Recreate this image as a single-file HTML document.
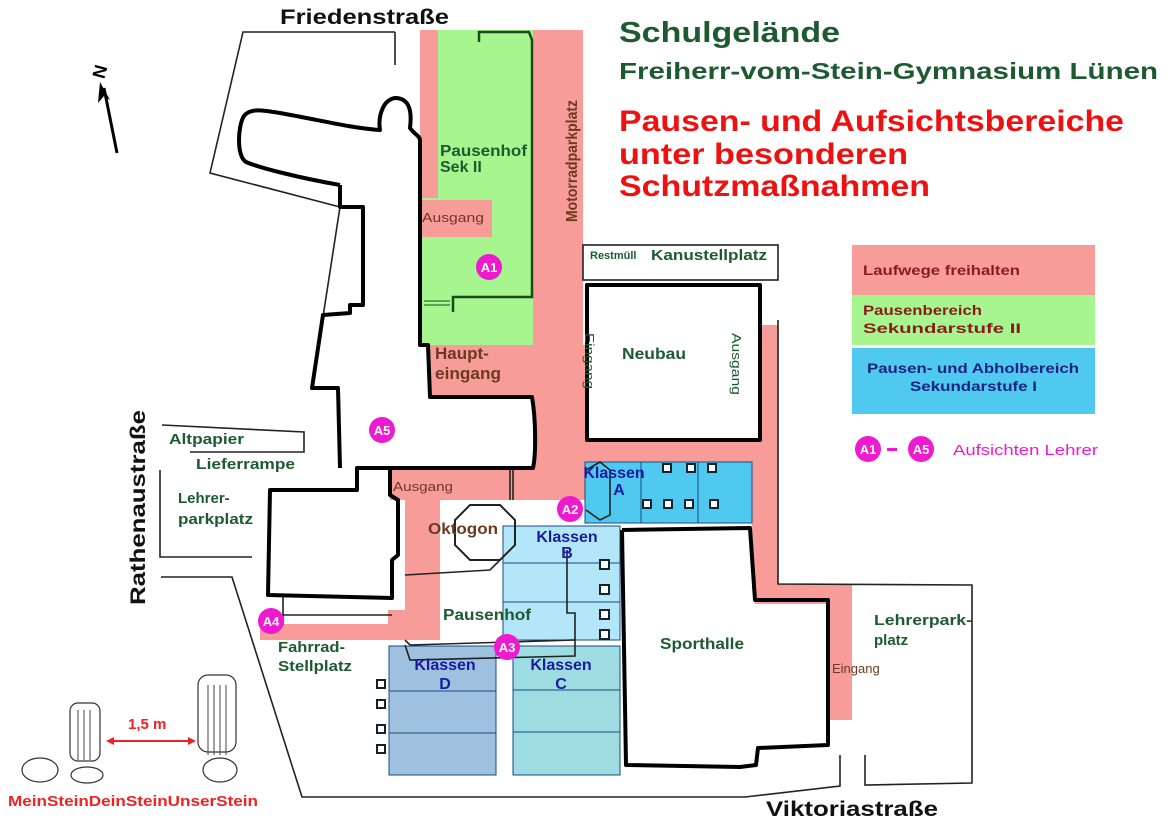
<!DOCTYPE html>
<html><head><meta charset="utf-8"><style>
body{margin:0;background:#fff;}
svg{display:block;font-family:"Liberation Sans",sans-serif;font-weight:bold;}
</style></head><body>
<svg width="1174" height="831" viewBox="0 0 1174 831" xmlns="http://www.w3.org/2000/svg">
<g fill="#f79c98">
<rect x="420" y="30" width="18" height="170"/>
<rect x="533" y="30" width="50" height="440"/>
<rect x="428" y="345" width="157" height="52"/>
<rect x="533" y="395" width="52" height="80"/>
<rect x="585" y="440" width="193" height="22"/>
<rect x="762" y="325" width="16" height="265"/>
<rect x="752" y="462" width="26" height="128"/>
<rect x="755" y="584" width="97" height="20"/>
<rect x="828" y="584" width="24" height="136"/>
<rect x="390" y="470" width="195" height="30"/>
<rect x="405" y="500" width="35" height="140"/>
<rect x="260" y="624" width="150" height="16"/>
<rect x="388" y="610" width="52" height="30"/>
</g>
<rect x="438" y="30" width="95" height="170" fill="#a6f58f"/>
<rect x="418" y="198" width="115" height="147" fill="#a6f58f"/>
<rect x="420" y="200" width="72" height="37" fill="#f79c98"/>
<g stroke="#1b4a80" stroke-width="1">
<rect x="585" y="462" width="167" height="61" fill="#4fc9f0"/>
<line x1="641" y1="462" x2="641" y2="523"/><line x1="698" y1="462" x2="698" y2="523"/>
<rect x="503" y="526" width="117" height="114" fill="#b4e6fa"/>
<line x1="503" y1="563" x2="620" y2="563"/><line x1="503" y1="602" x2="620" y2="602"/>
<rect x="389" y="646" width="107" height="129" fill="#9ec1df"/>
<line x1="389" y1="691" x2="496" y2="691"/><line x1="389" y1="733" x2="496" y2="733"/>
<rect x="513" y="646" width="107" height="129" fill="#9ddde1"/>
<line x1="513" y1="690" x2="620" y2="690"/><line x1="513" y1="732" x2="620" y2="732"/>
</g>
<g fill="none" stroke="#222" stroke-width="1.6">
<polyline points="395,32 243,32 210,173 340,207"/>
<polyline points="395,32 395,65"/>
<polyline points="340,207 312,388"/>
<polyline points="162,425 304,432 304,452 190,452"/>
<polyline points="160,470 160,557 252,557"/>
<polyline points="161,577 232,577 302,797 745,797"/>
<polyline points="778,320 778,584 972,585 972,783 865,785 865,755"/>
<polyline points="840,755 840,786 745,797"/>
<rect x="583" y="245" width="195" height="35"/>
<line x1="268" y1="615" x2="392" y2="615"/>
<line x1="283" y1="595" x2="283" y2="625"/>
<polygon points="470,505 500,505 515,520 515,545 500,560 470,560 455,545 455,520" stroke-width="2"/>
<polyline points="405,640 410,645 575,640 575,656 410,660 405,645"/>
<polyline points="510,470 510,500" /><polyline points="513,470 513,500"/>
<polyline points="405,575 490,570 500,560"/>
<polyline points="567,550 567,613 575,613 575,640"/>
<polyline points="586,470 600,462 610,470 610,515 600,520 586,510"/>
</g>
<g fill="none" stroke="#1b4b1b" stroke-width="2.5">
<polyline points="479,42 479,32 529,32 532,40 532,297 453,297 453,312"/>
<line x1="424" y1="301" x2="450" y2="301" stroke-width="1"/>
<line x1="424" y1="305" x2="450" y2="305" stroke-width="1"/>
</g>
<g fill="none" stroke="#000" stroke-width="4" stroke-linejoin="round">
<path d="M340,185 C300,178 260,168 246,162 C236,156 238,125 244,116 C250,108 262,110 280,113 C320,120 350,128 380,130 C378,118 382,100 395,98 C410,98 412,112 410,128 C414,134 420,136 420,140 L420,345 L428,345 L430,397 L532,397 C536,420 536,455 533,468 L357,468 L357,490 L270,490 L268,595 L392,598 L392,560 L398,555 L398,500 L390,495 L390,470"/>
<polyline points="340,185 340,207 363,207 363,305 350,305 350,313 323,315 312,388 338,388 340,468"/>
<rect x="587" y="285" width="173" height="155"/>
<polyline points="622,530 750,528 755,600 828,600 828,745 758,748 756,765 740,767 626,765 622,530"/>
</g>
<g fill="#fff" stroke="#123" stroke-width="2">
<rect x="600" y="560" width="9" height="9"/><rect x="600" y="585" width="9" height="9"/><rect x="600" y="610" width="9" height="9"/><rect x="600" y="630" width="9" height="9"/>
<rect x="377" y="680" width="8" height="8"/><rect x="377" y="700" width="8" height="8"/><rect x="377" y="725" width="8" height="8"/><rect x="377" y="745" width="8" height="8"/>
<rect x="663" y="464" width="8" height="8"/><rect x="687" y="464" width="8" height="8"/><rect x="708" y="464" width="8" height="8"/>
<rect x="643" y="500" width="8" height="8"/><rect x="664" y="500" width="8" height="8"/><rect x="685" y="500" width="8" height="8"/><rect x="710" y="500" width="8" height="8"/>
</g>
<line x1="117" y1="153" x2="104" y2="88" stroke="#000" stroke-width="3"/>
<polygon points="100,82 110,100 104,96 98,103" fill="#000"/>
<text x="90" y="75" font-size="18" transform="rotate(-75 100 68)">N</text>
<g lengthAdjust="spacingAndGlyphs">
<text x="619" y="42" font-size="29" fill="#1e5a30" textLength="221" lengthAdjust="spacingAndGlyphs">Schulgelände</text>
<text x="619" y="79" font-size="23" fill="#1e5a30" textLength="539" lengthAdjust="spacingAndGlyphs">Freiherr-vom-Stein-Gymnasium Lünen</text>
<g font-size="30" fill="#ee1111"><text x="619" y="131" textLength="505" lengthAdjust="spacingAndGlyphs">Pausen- und Aufsichtsbereiche</text><text x="619" y="164" textLength="289" lengthAdjust="spacingAndGlyphs">unter besonderen</text><text x="619" y="196" textLength="311" lengthAdjust="spacingAndGlyphs">Schutzmaßnahmen</text></g>
<g font-size="21" fill="#111"><text x="280" y="24" textLength="169" lengthAdjust="spacingAndGlyphs">Friedenstraße</text><text x="766" y="816" textLength="172" lengthAdjust="spacingAndGlyphs">Viktoriastraße</text>
<text x="0" y="0" transform="translate(145,605) rotate(-90)" textLength="195" lengthAdjust="spacingAndGlyphs">Rathenaustraße</text></g>
</g>
<rect x="852" y="245" width="243" height="50" fill="#f79c98"/>
<rect x="852" y="295" width="243" height="50" fill="#a6f58f"/>
<rect x="852" y="348" width="243" height="66" fill="#4fc9f0"/>
<text x="863" y="275" font-size="14" fill="#8b1a1a" textLength="157" lengthAdjust="spacingAndGlyphs">Laufwege freihalten</text>
<text x="863" y="315" font-size="14" fill="#8b1a1a" textLength="119" lengthAdjust="spacingAndGlyphs">Pausenbereich</text><text x="863" y="333" font-size="14" fill="#8b1a1a" textLength="158" lengthAdjust="spacingAndGlyphs">Sekundarstufe II</text>
<text x="867" y="373" font-size="14" fill="#1a237e" textLength="212" lengthAdjust="spacingAndGlyphs">Pausen- und Abholbereich</text><text x="910" y="391" font-size="14" fill="#1a237e" textLength="127" lengthAdjust="spacingAndGlyphs">Sekundarstufe I</text>
<rect x="887" y="448" width="10" height="3" fill="#ee1ad0"/>
<text x="953" y="455" font-size="15" fill="#ee1ad0" font-weight="normal" textLength="145" lengthAdjust="spacingAndGlyphs">Aufsichten Lehrer</text>
<g fill="#ee1ad0"><circle cx="868" cy="449" r="13"/><circle cx="921" cy="449" r="13"/><circle cx="489" cy="267" r="13"/><circle cx="382" cy="430" r="13"/><circle cx="570" cy="509" r="13"/><circle cx="507" cy="647" r="13"/><circle cx="271" cy="621" r="13"/></g>
<g fill="#fff" font-size="13" text-anchor="middle"><text x="868" y="454">A1</text><text x="921" y="454">A5</text><text x="489" y="272">A1</text><text x="382" y="435">A5</text><text x="570" y="514">A2</text><text x="507" y="652">A3</text><text x="271" y="626">A4</text></g>
<g fill="#1e5a30" font-size="16">
<text x="440" y="156" textLength="87" lengthAdjust="spacingAndGlyphs">Pausenhof</text><text x="440" y="172">Sek II</text>
<text x="622" y="359" textLength="64" lengthAdjust="spacingAndGlyphs">Neubau</text>
<text x="651" y="260" font-size="15" textLength="116" lengthAdjust="spacingAndGlyphs">Kanustellplatz</text>
<text x="169" y="444" font-size="15" textLength="75" lengthAdjust="spacingAndGlyphs">Altpapier</text><text x="196" y="469" font-size="15" textLength="99" lengthAdjust="spacingAndGlyphs">Lieferrampe</text>
<text x="178" y="503" font-size="15">Lehrer-</text><text x="178" y="524" font-size="15" textLength="75" lengthAdjust="spacingAndGlyphs">parkplatz</text>
<text x="428" y="534" fill="#6b3a1f" textLength="70" lengthAdjust="spacingAndGlyphs">Oktogon</text>
<text x="443" y="620" textLength="88" lengthAdjust="spacingAndGlyphs">Pausenhof</text>
<text x="660" y="649" textLength="84" lengthAdjust="spacingAndGlyphs">Sporthalle</text>
<text x="874" y="625" font-size="15" textLength="98" lengthAdjust="spacingAndGlyphs">Lehrerpark-</text><text x="874" y="645" font-size="15">platz</text>
<text x="278" y="652" font-size="15" textLength="67" lengthAdjust="spacingAndGlyphs">Fahrrad-</text><text x="278" y="671" font-size="15" textLength="74" lengthAdjust="spacingAndGlyphs">Stellplatz</text>
</g>
<text x="590" y="259" font-size="11" fill="#1e5a30">Restmüll</text>
<g fill="#6b3a1f" font-weight="normal" font-size="13">
<text x="422" y="222" textLength="62" lengthAdjust="spacingAndGlyphs">Ausgang</text><text x="393" y="491" textLength="60" lengthAdjust="spacingAndGlyphs">Ausgang</text>
<text x="832" y="673">Eingang</text>
</g>
<g fill="#6b3a1f" font-size="17"><text x="435" y="359">Haupt-</text><text x="435" y="379" textLength="66" lengthAdjust="spacingAndGlyphs">eingang</text></g>
<text x="0" y="0" font-size="16" fill="#6b3a1f" transform="translate(577,222) rotate(-90)" textLength="122" lengthAdjust="spacingAndGlyphs">Motorradparkplatz</text>
<text x="0" y="0" font-size="13" fill="#1e5a30" font-weight="normal" transform="translate(585,333) rotate(90)" textLength="56" lengthAdjust="spacingAndGlyphs">Eingang</text>
<text x="0" y="0" font-size="13" fill="#1e5a30" font-weight="normal" transform="translate(732,333) rotate(90)" textLength="62" lengthAdjust="spacingAndGlyphs">Ausgang</text>
<g fill="#1a1aa0" font-size="16" text-anchor="middle">
<text x="614" y="478">Klassen</text><text x="619" y="495">A</text>
<text x="567" y="542">Klassen</text><text x="567" y="558">B</text>
<text x="445" y="670">Klassen</text><text x="445" y="689">D</text>
<text x="561" y="670">Klassen</text><text x="561" y="689">C</text>
</g>
<g fill="#fff" stroke="#333" stroke-width="1.2">
<rect x="70" y="703" width="30" height="58" rx="8"/>
<ellipse cx="87" cy="775" rx="16" ry="8"/>
<ellipse cx="40" cy="770" rx="18" ry="12"/>
<rect x="198" y="675" width="38" height="77" rx="10"/>
<ellipse cx="220" cy="770" rx="17" ry="12"/>
</g>
<g stroke="#444" stroke-width="1"><line x1="78" y1="710" x2="78" y2="760"/><line x1="84" y1="710" x2="84" y2="760"/><line x1="90" y1="710" x2="90" y2="760"/><line x1="208" y1="685" x2="208" y2="755"/><line x1="214" y1="685" x2="214" y2="755"/><line x1="220" y1="685" x2="220" y2="755"/><line x1="226" y1="685" x2="226" y2="755"/></g>
<line x1="110" y1="741" x2="192" y2="741" stroke="#e22" stroke-width="2"/>
<polygon points="106,741 114,737 114,745" fill="#e22"/><polygon points="196,741 188,737 188,745" fill="#e22"/>
<text x="128" y="729" font-size="15" fill="#e22">1,5 m</text>
<text x="8" y="806" font-size="15" fill="#e22" textLength="250" lengthAdjust="spacingAndGlyphs">MeinSteinDeinSteinUnserStein</text>
</svg>
</body></html>
